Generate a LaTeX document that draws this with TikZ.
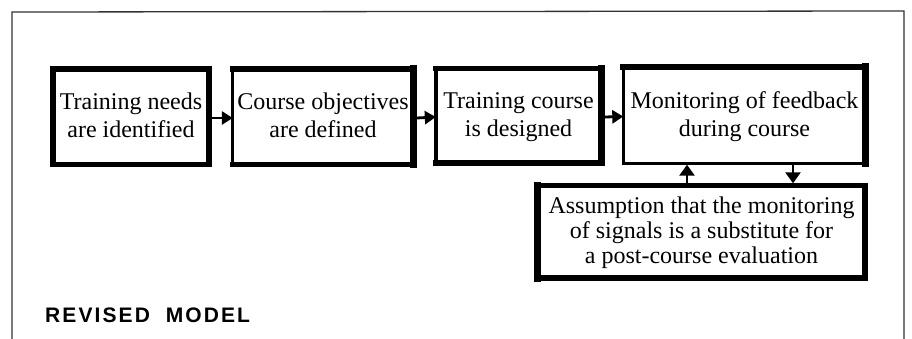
\documentclass[tikz,border=0pt]{standalone}
\usepackage{fontspec}
\setmainfont{Liberation Serif}
\newfontfamily\labelfont[LetterSpace=10]{Liberation Sans}
\usetikzlibrary{arrows.meta}
\tikzset{
  stepnode/.style={inner sep=0pt, align=center, font=\fontsize{24}{28}\selectfont, text height=45pt, text depth=2pt},
  bignode/.style={inner sep=0pt, align=center, font=\fontsize{24}{25}\selectfont, text height=67pt, text depth=5pt},
  side/.style={line cap=rect, black},
  arr/.style={-{Triangle[length=11pt,width=13pt]}, line width=2.8pt},
  varr/.style={-{Triangle[length=11pt,width=15pt]}, line width=2.5pt},
  frameline/.style={line width=1.3pt, black!80, line join=miter},
}
\newcommand\boxsides[5]{%
  \draw[side,line width=#2] (#1.north west) -- (#1.south west);
  \draw[side,line width=#3] (#1.north west) -- (#1.north east);
  \draw[side,line width=#4] (#1.north east) -- (#1.south east);
  \draw[side,line width=#5] (#1.south west) -- (#1.south east);
}
\begin{document}
\begin{tikzpicture}[x=1pt,y=-1pt]
\useasboundingbox (0,0) rectangle (912,339);
% outer frame (open at the bottom)
\coordinate (fbl) at (12,339);
\coordinate (ftl) at (12,12);
\coordinate (ftr) at (904,11);
\coordinate (fbr) at (904,339);
\draw[frameline] (fbl) -- (ftl) -- (ftr) -- (fbr);

% boxes
\node[stepnode, minimum width=156pt, minimum height=95pt] (b1) at (131,116.5) {Training needs\\are identified};
\node[stepnode, minimum width=180pt, minimum height=95pt] (b2) at (323,116.5) {Course objectives\\are defined};
\node[stepnode, minimum width=165pt, minimum height=94pt] (b3) at (518.5,115.5) {Training course\\is designed};
\node[stepnode, minimum width=242pt, minimum height=96pt] (b4) at (744.5,115) {Monitoring of feedback\\during course};
\node[bignode, minimum width=327pt, minimum height=92pt] (b5) at (701.5,232) {Assumption that the monitoring\\of signals is a substitute for\\a post-course evaluation};

\boxsides{b1}{6pt}{6pt}{6pt}{5pt}
\boxsides{b2}{3pt}{6pt}{7pt}{5pt}
\boxsides{b3}{3.5pt}{5pt}{7pt}{6pt}
\boxsides{b4}{3pt}{6pt}{7pt}{3pt}
\boxsides{b5}{7pt}{5pt}{6pt}{6pt}

% connectors
\draw[arr] ([xshift=3pt,yshift=-1.5pt]b1.east) -- ([yshift=-1.5pt]b2.west);
\draw[arr] ([xshift=3.5pt,yshift=-1.5pt]b2.east) -- ([yshift=-1.5pt]b3.west);
\draw[arr] ([xshift=3.5pt,yshift=-1.5pt]b3.east) -- ([yshift=-1.5pt]b4.west);
\coordinate (ua) at (687,0);
\coordinate (da) at (793,0);
\draw[varr, shorten <=-2.5pt, shorten >=1.5pt] (b5.north -| ua) -- (b4.south -| ua);
\draw[varr, shorten <=1.5pt, shorten >=2.5pt] (b4.south -| da) -- (b5.north -| da);

% caption
\node[anchor=base west, inner sep=0pt, font=\labelfont\bfseries\fontsize{21}{24}\selectfont] (cap) at (45,322) {REVISED\ \ MODEL};
\end{tikzpicture}
\end{document}
